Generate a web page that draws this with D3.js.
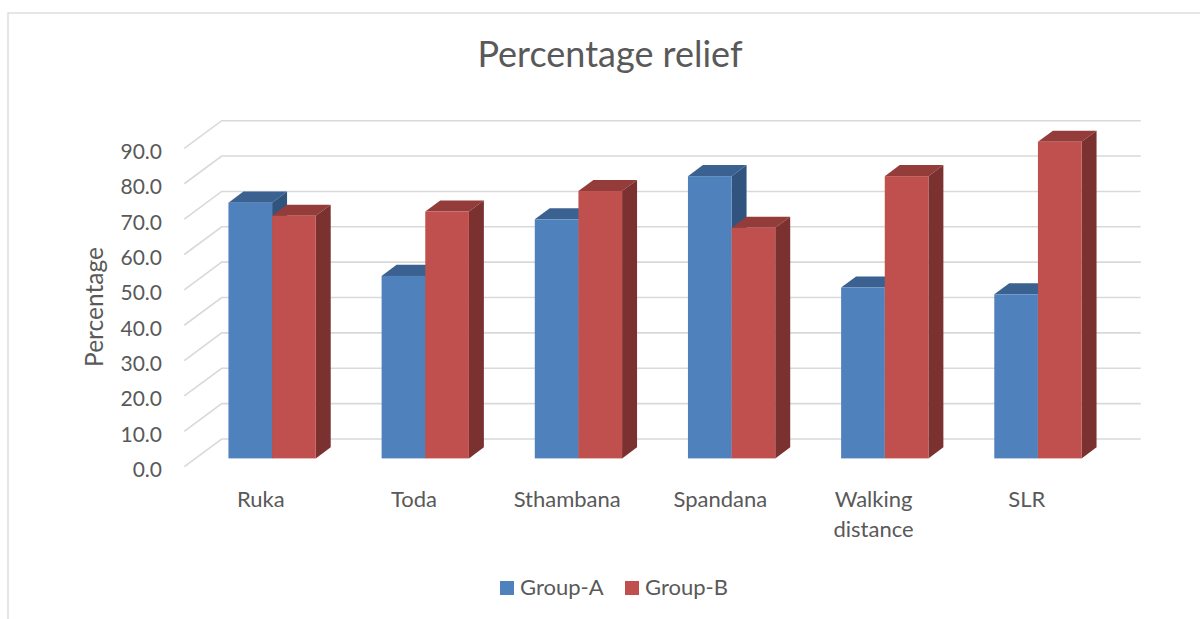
<!DOCTYPE html>
<html>
<head>
<meta charset="utf-8">
<script src="https://cdn.jsdelivr.net/npm/d3@7/dist/d3.min.js"></script>
<style>
  html, body { margin: 0; padding: 0; background: #fff; }
  svg { display: block; }
  text { font-family: Lato, "Noto Sans", sans-serif; fill: #595959; }
</style>
</head>
<body>
<svg id="chart" width="1200" height="619"></svg>
<script>
// Chart values
const categories = ["Ruka", "Toda", "Sthambana", "Spandana", "Walking distance", "SLR"];
const seriesNames = ["Group-A", "Group-B"];
const groupA = [72.3, 51.6, 67.6, 79.8, 48.3, 46.4];
const groupB = [68.6, 69.8, 75.6, 65.2, 79.8, 89.5];
const yTicks = [0, 10, 20, 30, 40, 50, 60, 70, 80, 90];
const chartTitle = "Percentage relief";
const yTitle = "Percentage";

// Face colours per series: front, top, side
const palette = {
  "Group-A": { front: "#4f81bd", top: "#3b6191", side: "#31547f" },
  "Group-B": { front: "#c0504d", top: "#943c3a", side: "#7b3130" }
};

const svg = d3.select("#chart");

// Oblique 3-D frame: front plane plus a depth offset to the back wall
const plotLeft = 184.3, plotRight = 1103.3;
const floorY = 466.7, topY = 148.4;
const depthX = 37.4, depthY = 27.7;

const x = d3.scaleBand().domain(categories).range([plotLeft, plotRight])
  .paddingInner(0.43).paddingOuter(0.215);
const xInner = d3.scaleBand().domain(seriesNames).range([0, x.bandwidth()]);
const y = d3.scaleLinear().domain([0, 90]).range([floorY, topY]);
const xCat = d3.scaleBand().domain(categories).range([plotLeft, plotRight]);

// point projected at depth z (0 = front plane, 1 = back wall)
const proj = (px, py, z) => [px + z * depthX, py - z * depthY];

// Outer chart frame
svg.append("rect")
  .attr("x", 8).attr("y", 13).attr("width", 1300).attr("height", 700)
  .attr("fill", "none").attr("stroke", "#d9d9d9").attr("stroke-width", 1.3);

// Title
svg.append("text")
  .attr("x", 610).attr("y", 67)
  .attr("text-anchor", "middle")
  .style("font-size", "36px")
  .text(chartTitle);

// Gridlines: side wall diagonals and back wall horizontals
const grid = svg.append("g").attr("stroke", "#d9d9d9").attr("stroke-width", 1.6).attr("fill", "none");
yTicks.forEach(t => {
  const a = proj(plotLeft, y(t), 0);
  const b = proj(plotLeft, y(t), 1);
  const c = proj(plotRight, y(t), 1);
  grid.append("path").attr("d", d3.line()([a, b, c]));
});

// Value axis labels
svg.append("g").selectAll("text").data(yTicks).join("text")
  .attr("x", 162)
  .attr("y", d => y(d) + 10.5)
  .attr("text-anchor", "end")
  .style("font-size", "21px")
  .text(d => d3.format(".1f")(d));

// Value axis title
svg.append("text")
  .attr("transform", "translate(103,307) rotate(-90)")
  .attr("text-anchor", "middle")
  .style("font-size", "24.5px")
  .text(yTitle);

// Bars drawn as boxes occupying depth 0.3 .. 0.7
const zFront = 0.3, zBack = 0.7;
const bars = svg.append("g");
categories.forEach((cat, i) => {
  const vals = [groupA[i], groupB[i]];
  seriesNames.forEach((s, j) => {
    const x0 = x(cat) + xInner(s);
    const w = xInner.bandwidth();
    const col = palette[s];
    const ft = proj(x0, y(vals[j]), zFront);
    const fb = proj(x0, y(0), zFront);
    const bt = proj(x0, y(vals[j]), zBack);
    const bb = proj(x0, y(0), zBack);
    const poly = pts => "M" + pts.map(p => p.join(",")).join("L") + "Z";
    // top face
    bars.append("path")
      .attr("d", poly([[ft[0], ft[1]], [ft[0] + w, ft[1]], [bt[0] + w, bt[1]], [bt[0], bt[1]]]))
      .attr("fill", col.top);
    // right side face
    bars.append("path")
      .attr("d", poly([[ft[0] + w, ft[1]], [bt[0] + w, bt[1]], [bb[0] + w, bb[1]], [fb[0] + w, fb[1]]]))
      .attr("fill", col.side);
    // front face
    bars.append("rect")
      .attr("x", ft[0]).attr("y", ft[1])
      .attr("width", w).attr("height", fb[1] - ft[1])
      .attr("fill", col.front);
  });
});

// Category labels, wrapped when wider than the band allows
const catG = svg.append("g");
categories.forEach(cat => {
  const cx = xCat(cat) + xCat.bandwidth() / 2;
  const t = catG.append("text")
    .attr("x", cx).attr("y", 507)
    .attr("text-anchor", "middle")
    .style("font-size", "22px");
  const words = cat.split(" ");
  let line = [];
  let tspan = t.append("tspan").attr("x", cx).attr("dy", 0);
  words.forEach(wd => {
    line.push(wd);
    tspan.text(line.join(" "));
    if (tspan.node().getComputedTextLength() > 120 && line.length > 1) {
      line.pop();
      tspan.text(line.join(" "));
      line = [wd];
      tspan = t.append("tspan").attr("x", cx).attr("dy", 29.5).text(wd);
    }
  });
});

// Legend
const legend = svg.append("g");
const legendX = [500, 625];
seriesNames.forEach((s, j) => {
  legend.append("rect")
    .attr("x", legendX[j]).attr("y", 581)
    .attr("width", 14).attr("height", 14)
    .attr("fill", palette[s].front);
  legend.append("text")
    .attr("x", legendX[j] + 20).attr("y", 595)
    .style("font-size", "22px")
    .text(s);
});
</script>
</body>
</html>
